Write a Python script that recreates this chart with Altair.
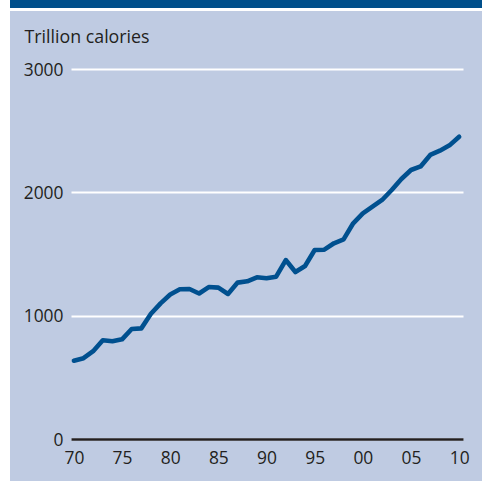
import altair as alt
import pandas as pd

years = list(range(1970, 2011))
calories = [635, 655, 712, 800, 792, 808, 892, 897, 1015, 1100,
            1172, 1214, 1216, 1180, 1232, 1227, 1176, 1268, 1279, 1311,
            1303, 1316, 1451, 1354, 1403, 1532, 1535, 1587, 1619, 1749,
            1830, 1884, 1938, 2019, 2108, 2181, 2210, 2303, 2338, 2381,
            2451]
y_ticks = [0, 1000, 2000, 3000]
x_ticks = [1970, 1975, 1980, 1985, 1990, 1995, 2000, 2005, 2010]

df = pd.DataFrame({"year": years, "value": calories})

FONT = "Open Sans"
TXT = "#231f20"
BG = "#bfcbe2"

PLOT_W, PLOT_H = 392, 370
LEFT, TOP = 71, 69

line = alt.Chart(df).mark_line(color="#00508f", strokeWidth=4.6, strokeJoin="round", strokeCap="round").encode(
    x=alt.X("year:Q",
            scale=alt.Scale(domain=[1969.7, 2010.4], nice=False, zero=False),
            axis=alt.Axis(values=x_ticks, title=None, grid=False, ticks=False,
                          domain=True, domainColor=TXT, domainWidth=2.5,
                          labelExpr="substring(toString(datum.value), 2, 4)",
                          labelPadding=10, labelFont=FONT, labelFontSize=17.4,
                          labelColor=TXT, labelFlush=False)),
    y=alt.Y("value:Q",
            scale=alt.Scale(domain=[0, 3000], nice=False),
            axis=alt.Axis(values=y_ticks, format="d", title="Trillion calories", grid=True,
                          gridColor="white", gridWidth=2, ticks=False, domain=False,
                          labelPadding=8, labelFont=FONT, labelFontSize=17.4,
                          labelColor=TXT, labelOffset=1, labelFlush=False,
                          titleAngle=0, titleX=24 - LEFT, titleY=42 - TOP,
                          titleAlign="left", titleBaseline="alphabetic",
                          titleFont=FONT, titleFontSize=17.8, titleFontWeight="normal",
                          titleColor=TXT))
)

# decorative frame: left white strip, top dark band, white gap
deco = pd.DataFrame({"k": [0]})
left_strip = alt.Chart(deco).mark_rect(color="white").encode(
    x=alt.value(0 - LEFT), x2=alt.value(10 - LEFT),
    y=alt.value(0 - TOP), y2=alt.value(481 - TOP))
top_gap = alt.Chart(deco).mark_rect(color="white").encode(
    x=alt.value(10 - LEFT), x2=alt.value(482 - LEFT),
    y=alt.value(8 - TOP), y2=alt.value(11 - TOP))
top_bar = alt.Chart(deco).mark_rect(color="#004f8b").encode(
    x=alt.value(10 - LEFT), x2=alt.value(482 - LEFT),
    y=alt.value(0 - TOP), y2=alt.value(8 - TOP))

chart = alt.layer(left_strip, top_gap, top_bar, line).properties(
    width=PLOT_W, height=PLOT_H,
    background=BG,
    padding={"left": LEFT, "top": TOP, "right": 482 - LEFT - PLOT_W, "bottom": 481 - TOP - PLOT_H},
    autosize=alt.AutoSizeParams(type="none"),
).configure_view(stroke=None)

chart.save("out.html", embed_options={"renderer": "svg", "actions": False})
